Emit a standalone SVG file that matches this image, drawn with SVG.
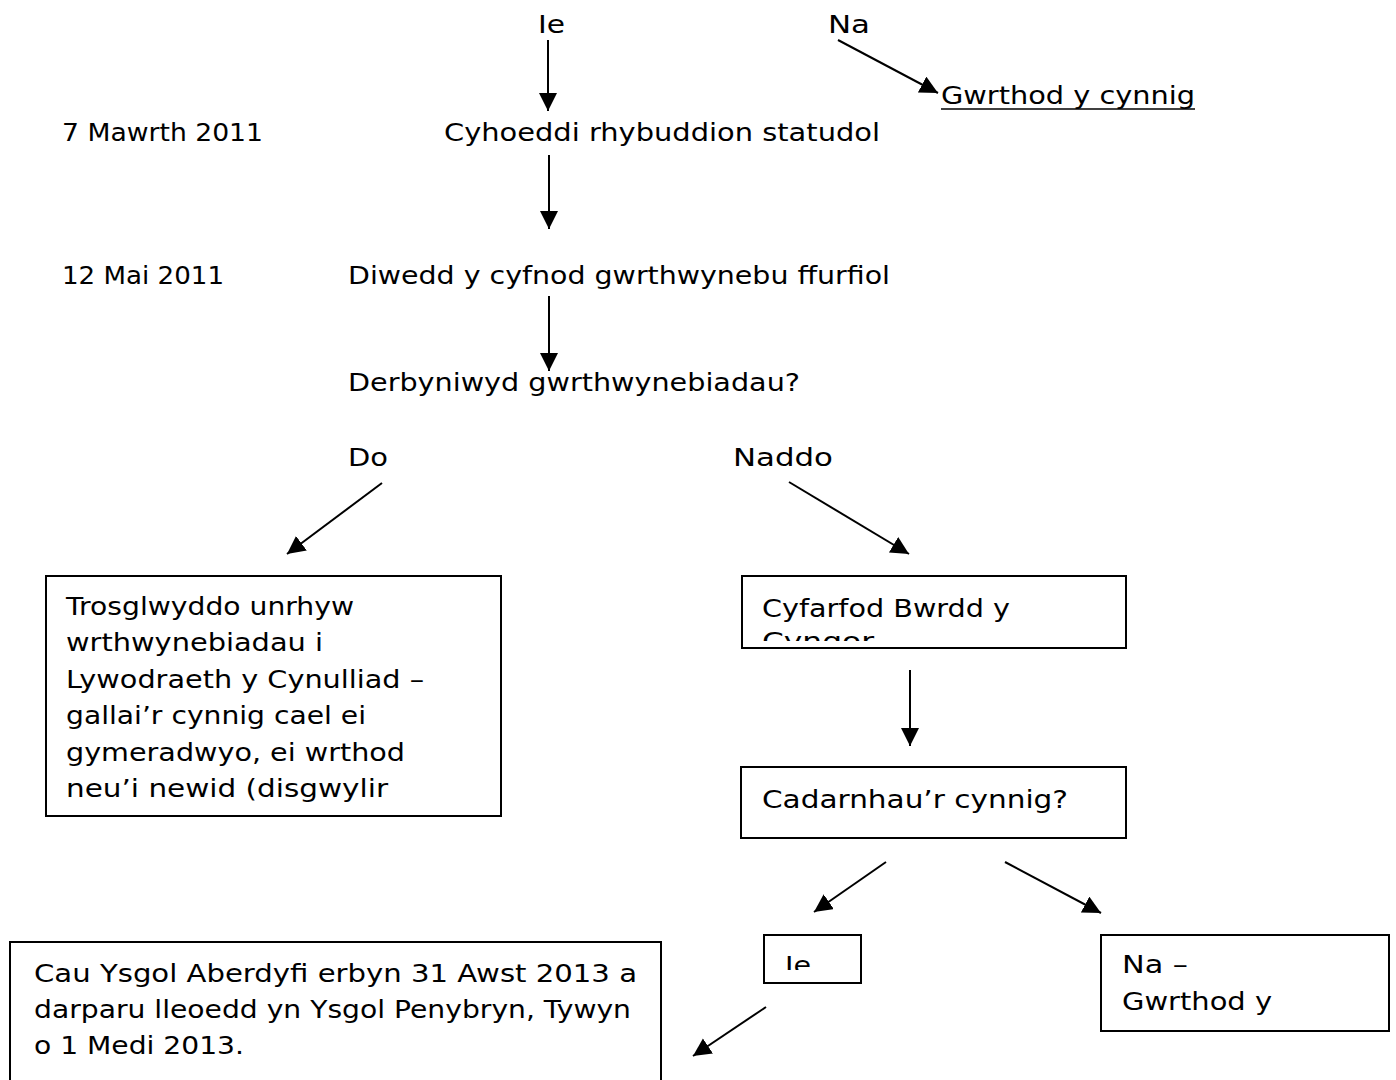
<svg xmlns="http://www.w3.org/2000/svg" width="1396" height="1080" viewBox="0 0 1396 1080">
<style>
text{font-family:"DejaVu Sans","Liberation Sans",sans-serif;font-size:25px;fill:#000}
.box{fill:#fff;stroke:#000;stroke-width:2}
.c{stroke:#000;stroke-width:2;fill:none;marker-end:url(#ah)}
</style>
<defs>
<marker id="ah" markerUnits="userSpaceOnUse" markerWidth="20" markerHeight="20" refX="18" refY="9" orient="auto">
<path d="M0,0 L18,9 L0,18 Z" fill="#000"/>
</marker>
<clipPath id="clipCyf"><rect x="743" y="577" width="382" height="64"/></clipPath>
<clipPath id="clipIe"><rect x="765" y="936" width="95" height="34"/></clipPath>
</defs>
<rect width="1396" height="1080" fill="#fff"/>
<g id="connectors">
<line class="c" x1="548" y1="40" x2="548" y2="111"/>
<line class="c" x1="838" y1="40" x2="938" y2="93"/>
<line class="c" x1="549" y1="155" x2="549" y2="229"/>
<line class="c" x1="549" y1="296" x2="549" y2="371"/>
<line class="c" x1="382" y1="483" x2="287" y2="554"/>
<line class="c" x1="789" y1="482" x2="909" y2="554"/>
<line class="c" x1="910" y1="670" x2="910" y2="746"/>
<line class="c" x1="886" y1="862" x2="814" y2="912"/>
<line class="c" x1="1005" y1="862" x2="1101" y2="913"/>
<line class="c" x1="766" y1="1007" x2="693" y2="1056"/>
</g>
<g id="top-labels">
<text x="538" y="33" textLength="27" lengthAdjust="spacingAndGlyphs">Ie</text>
<text x="828" y="33" textLength="42" lengthAdjust="spacingAndGlyphs">Na</text>
<text x="941" y="104" textLength="254" lengthAdjust="spacingAndGlyphs">Gwrthod y cynnig</text>
<line x1="941" y1="109" x2="1195" y2="109" stroke="#000" stroke-width="1.6"/>
</g>
<g id="step-1">
<text x="62" y="141" textLength="201" lengthAdjust="spacingAndGlyphs">7 Mawrth 2011</text>
<text x="444" y="141" textLength="436" lengthAdjust="spacingAndGlyphs">Cyhoeddi rhybuddion statudol</text>
</g>
<g id="step-2">
<text x="62" y="284" textLength="162" lengthAdjust="spacingAndGlyphs">12 Mai 2011</text>
<text x="348" y="284" textLength="542" lengthAdjust="spacingAndGlyphs">Diwedd y cyfnod gwrthwynebu ffurfiol</text>
</g>
<g id="question-1">
<text x="348" y="391" textLength="452" lengthAdjust="spacingAndGlyphs">Derbyniwyd gwrthwynebiadau?</text>
</g>
<g id="branch-labels">
<text x="348" y="466" textLength="40" lengthAdjust="spacingAndGlyphs">Do</text>
<text x="733" y="466" textLength="100" lengthAdjust="spacingAndGlyphs">Naddo</text>
</g>
<g id="box-objections">
<rect class="box" x="46" y="576" width="455" height="240"/>
<text x="66" y="615" textLength="288" lengthAdjust="spacingAndGlyphs">Trosglwyddo unrhyw</text>
<text x="66" y="651" textLength="257" lengthAdjust="spacingAndGlyphs">wrthwynebiadau i</text>
<text x="66" y="688" textLength="358" lengthAdjust="spacingAndGlyphs">Lywodraeth y Cynulliad –</text>
<text x="66" y="724" textLength="300" lengthAdjust="spacingAndGlyphs">gallai’r cynnig cael ei</text>
<text x="66" y="761" textLength="339" lengthAdjust="spacingAndGlyphs">gymeradwyo, ei wrthod</text>
<text x="66" y="797" textLength="322" lengthAdjust="spacingAndGlyphs">neu’i newid (disgwylir</text>
</g>
<g id="box-board">
<rect class="box" x="742" y="576" width="384" height="72"/>
<g clip-path="url(#clipCyf)">
<text x="762" y="617" textLength="248" lengthAdjust="spacingAndGlyphs">Cyfarfod Bwrdd y</text>
<text x="762" y="650" textLength="112" lengthAdjust="spacingAndGlyphs">Cyngor</text>
</g>
</g>
<g id="box-confirm">
<rect class="box" x="741" y="767" width="385" height="71"/>
<text x="762" y="808" textLength="306" lengthAdjust="spacingAndGlyphs">Cadarnhau’r cynnig?</text>
</g>
<g id="box-yes">
<rect class="box" x="764" y="935" width="97" height="48"/>
<g clip-path="url(#clipIe)">
<text x="785" y="974" textLength="26" lengthAdjust="spacingAndGlyphs">Ie</text>
</g>
</g>
<g id="box-no">
<rect class="box" x="1101" y="935" width="288" height="96"/>
<text x="1122" y="973" textLength="66" lengthAdjust="spacingAndGlyphs">Na –</text>
<text x="1122" y="1010" textLength="150" lengthAdjust="spacingAndGlyphs">Gwrthod y</text>
</g>
<g id="box-close">
<rect class="box" x="10" y="942" width="651" height="160"/>
<text x="34" y="982" textLength="603" lengthAdjust="spacingAndGlyphs">Cau Ysgol Aberdyfi erbyn 31 Awst 2013 a</text>
<text x="34" y="1018" textLength="597" lengthAdjust="spacingAndGlyphs">darparu lleoedd yn Ysgol Penybryn, Tywyn</text>
<text x="34" y="1054" textLength="210" lengthAdjust="spacingAndGlyphs">o 1 Medi 2013.</text>
</g>
</svg>
